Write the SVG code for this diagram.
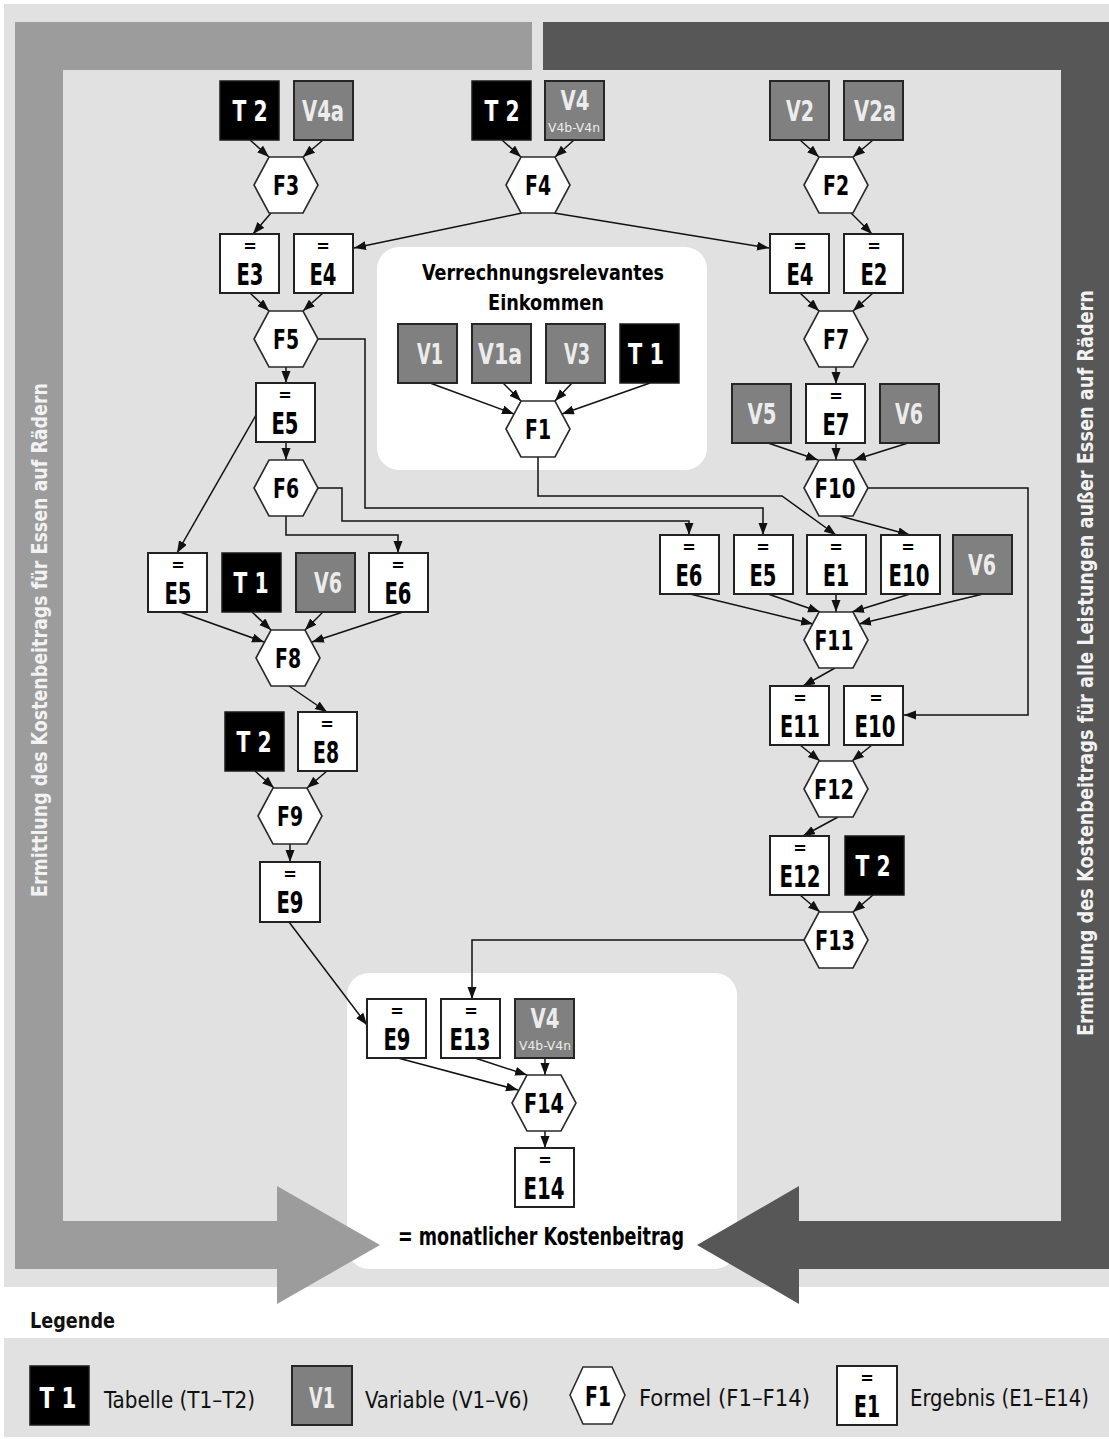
<svg xmlns="http://www.w3.org/2000/svg" xmlns:xlink="http://www.w3.org/1999/xlink" width="1109" height="1439" viewBox="0 0 1109 1439">
<style>
text{font-family:'Liberation Sans Narrow','DejaVu Sans Condensed','Liberation Sans',Arial,sans-serif;font-stretch:condensed;font-weight:bold;text-anchor:middle}
.bt{fill:#000;stroke:#1a1a1a;stroke-width:1.5}
.bv{fill:#808080;stroke:#262626;stroke-width:2}
.be{fill:#fff;stroke:#222;stroke-width:2}
.hx{fill:#fff;stroke:#2a2a2a;stroke-width:1.6}
.lt{fill:#fff;font-size:29px}
.lv{fill:#ececec;font-size:29px}
.le{fill:#000;font-size:30px}
.eq{fill:#000;font-size:18px}
.lf{fill:#000;font-size:27px}
.con path,.con polyline,.con line{fill:none;stroke:#111;stroke-width:1.5;marker-end:url(#ah)}
.vt{fill:#f2f2f2;font-size:21px}
.lg{font-weight:normal;font-size:23px;text-anchor:start;fill:#111}
</style>
<defs>
<marker id="ah" markerUnits="userSpaceOnUse" markerWidth="12" markerHeight="10" refX="12" refY="4.5" orient="auto"><path d="M0,0 L12,4.5 L0,9 z" fill="#111"/></marker>
<polygon id="hex" points="-32,0 -17,-28 17,-28 32,0 17,28 -17,28"/>
</defs>
<rect width="1109" height="1439" fill="#fff"/>
<rect x="4" y="4" width="1105" height="1283" fill="#e1e1e1"/>
<rect x="377" y="247" width="330" height="223" rx="22" fill="#fff"/>
<rect x="347" y="973" width="390" height="296" rx="22" fill="#fff"/>
<path d="M15,22 H532 V70 H63 V1221 H277 V1186 L380,1245 L277,1304 V1269 H15 Z" fill="#9c9c9c"/>
<path d="M543,22 H1109 V1269 H799 V1304 L697,1245 L799,1186 V1221 H1061 V70 H543 Z" fill="#575757"/>
<text class="vt" transform="translate(47,640) rotate(-90)" textLength="514" lengthAdjust="spacingAndGlyphs">Ermittlung des Kostenbeitrags für Essen auf Rädern</text>
<text class="vt" transform="translate(1093,663) rotate(-90)" textLength="746" lengthAdjust="spacingAndGlyphs">Ermittlung des Kostenbeitrags für alle Leistungen außer Essen auf Rädern</text>
<text x="543" y="280" style="font-size:22px;fill:#000" textLength="242" lengthAdjust="spacingAndGlyphs">Verrechnungsrelevantes</text>
<text x="546" y="310" style="font-size:22px;fill:#000" textLength="116" lengthAdjust="spacingAndGlyphs">Einkommen</text>
<text x="541" y="1245" style="font-size:24px;fill:#000" textLength="286" lengthAdjust="spacingAndGlyphs">= monatlicher Kostenbeitrag</text>

<g class="con" id="connectors">
<line x1="250" y1="140" x2="269" y2="157"/>
<line x1="323" y1="140" x2="303" y2="157"/>
<line x1="271" y1="213" x2="253" y2="234"/>
<line x1="502" y1="140" x2="521" y2="157"/>
<line x1="574" y1="140" x2="555" y2="157"/>
<line x1="522" y1="213" x2="354" y2="248"/>
<line x1="554" y1="213" x2="769" y2="248"/>
<line x1="800" y1="140" x2="819" y2="157"/>
<line x1="873" y1="140" x2="853" y2="157"/>
<line x1="851" y1="213" x2="872" y2="234"/>
<line x1="250" y1="293" x2="269" y2="311"/>
<line x1="323" y1="293" x2="303" y2="311"/>
<line x1="800" y1="293" x2="819" y2="311"/>
<line x1="873" y1="293" x2="853" y2="311"/>
<line x1="286" y1="367" x2="286" y2="383"/>
<line x1="286" y1="442" x2="286" y2="460"/>
<line x1="836" y1="367" x2="836" y2="384"/>
<line x1="430" y1="383" x2="514" y2="414"/>
<line x1="503" y1="383" x2="521" y2="401"/>
<line x1="572" y1="383" x2="555" y2="401"/>
<line x1="650" y1="383" x2="562" y2="414"/>
<line x1="768" y1="443" x2="818" y2="460"/>
<line x1="836" y1="443" x2="836" y2="460"/>
<line x1="908" y1="443" x2="854" y2="460"/>
<polyline points="318,339 365,339 365,508 763,508 763,535"/>
<polyline points="318,488 342,488 342,521 689,521 689,535"/>
<polyline points="538,457 538,496 782,496 836,535"/>
<line x1="840" y1="516" x2="910" y2="535"/>
<polyline points="868,488 1028,488 1028,715 904,715"/>
<line x1="256" y1="415" x2="177" y2="553"/>
<polyline points="286,516 286,535 398,535 398,553"/>
<line x1="180" y1="612" x2="264" y2="642"/>
<line x1="252" y1="612" x2="271" y2="630"/>
<line x1="323" y1="612" x2="305" y2="630"/>
<line x1="403" y1="612" x2="312" y2="642"/>
<line x1="289" y1="686" x2="327" y2="712"/>
<line x1="255" y1="771" x2="274" y2="788"/>
<line x1="327" y1="771" x2="307" y2="788"/>
<line x1="290" y1="844" x2="290" y2="862"/>
<line x1="690" y1="594" x2="813" y2="624"/>
<line x1="768" y1="594" x2="820" y2="612"/>
<line x1="836" y1="594" x2="836" y2="612"/>
<line x1="910" y1="594" x2="852" y2="612"/>
<line x1="983" y1="594" x2="859" y2="624"/>
<line x1="835" y1="668" x2="803" y2="686"/>
<line x1="800" y1="745" x2="820" y2="761"/>
<line x1="872" y1="745" x2="852" y2="761"/>
<line x1="838" y1="817" x2="803" y2="836"/>
<line x1="800" y1="895" x2="820" y2="912"/>
<line x1="873" y1="895" x2="853" y2="912"/>
<polyline points="804,940 472,940 472,999"/>
<line x1="289" y1="922" x2="367" y2="1025"/>
<line x1="398" y1="1058" x2="518" y2="1090"/>
<line x1="475" y1="1058" x2="527" y2="1075"/>
<line x1="545" y1="1058" x2="545" y2="1075"/>
<line x1="545" y1="1131" x2="545" y2="1148"/>
</g>

<g id="t2-a"><rect class="bt" x="220" y="81" width="59" height="59"/><text class="lt" x="250" y="121" textLength="35" lengthAdjust="spacingAndGlyphs">T 2</text></g>
<g id="v4a"><rect class="bv" x="294" y="81" width="59" height="59"/><text class="lv" x="323" y="121" textLength="42" lengthAdjust="spacingAndGlyphs">V4a</text></g>
<g id="t2-b"><rect class="bt" x="472" y="81" width="59" height="59"/><text class="lt" x="502" y="121" textLength="35" lengthAdjust="spacingAndGlyphs">T 2</text></g>
<g id="v4-a"><rect class="bv" x="545" y="81" width="59" height="59"/><text class="lv" x="575" y="110" style="font-size:27px" textLength="29" lengthAdjust="spacingAndGlyphs">V4</text><text class="lv" x="574" y="132" style="font-size:13px;font-weight:normal" textLength="52" lengthAdjust="spacingAndGlyphs">V4b-V4n</text></g>
<g id="v2"><rect class="bv" x="770" y="81" width="59" height="59"/><text class="lv" x="800" y="121" textLength="28" lengthAdjust="spacingAndGlyphs">V2</text></g>
<g id="v2a"><rect class="bv" x="844" y="81" width="59" height="59"/><text class="lv" x="875" y="121" textLength="42" lengthAdjust="spacingAndGlyphs">V2a</text></g>

<g id="f3"><use xlink:href="#hex" class="hx" x="286" y="185"/><text class="lf" x="286" y="195" textLength="26" lengthAdjust="spacingAndGlyphs">F3</text></g>
<g id="f4"><use xlink:href="#hex" class="hx" x="538" y="185"/><text class="lf" x="538" y="195" textLength="26" lengthAdjust="spacingAndGlyphs">F4</text></g>
<g id="f2"><use xlink:href="#hex" class="hx" x="836" y="185"/><text class="lf" x="836" y="195" textLength="26" lengthAdjust="spacingAndGlyphs">F2</text></g>

<g id="e3"><rect class="be" x="220" y="234" width="59" height="59"/><text class="eq" x="250" y="252">=</text><text class="le" x="250" y="285" textLength="27" lengthAdjust="spacingAndGlyphs">E3</text></g>
<g id="e4-a"><rect class="be" x="294" y="234" width="59" height="59"/><text class="eq" x="323" y="252">=</text><text class="le" x="323" y="285" textLength="27" lengthAdjust="spacingAndGlyphs">E4</text></g>
<g id="e4-b"><rect class="be" x="770" y="234" width="59" height="59"/><text class="eq" x="800" y="252">=</text><text class="le" x="800" y="285" textLength="27" lengthAdjust="spacingAndGlyphs">E4</text></g>
<g id="e2"><rect class="be" x="844" y="234" width="59" height="59"/><text class="eq" x="874" y="252">=</text><text class="le" x="874" y="285" textLength="27" lengthAdjust="spacingAndGlyphs">E2</text></g>

<g id="f5"><use xlink:href="#hex" class="hx" x="286" y="339"/><text class="lf" x="286" y="349" textLength="26" lengthAdjust="spacingAndGlyphs">F5</text></g>
<g id="f7"><use xlink:href="#hex" class="hx" x="836" y="339"/><text class="lf" x="836" y="349" textLength="26" lengthAdjust="spacingAndGlyphs">F7</text></g>

<g id="v1"><rect class="bv" x="398" y="324" width="59" height="59"/><text class="lv" x="430" y="364" textLength="26" lengthAdjust="spacingAndGlyphs">V1</text></g>
<g id="v1a"><rect class="bv" x="472" y="324" width="59" height="59"/><text class="lv" x="500" y="364" textLength="44" lengthAdjust="spacingAndGlyphs">V1a</text></g>
<g id="v3"><rect class="bv" x="546" y="324" width="59" height="59"/><text class="lv" x="577" y="364" textLength="26" lengthAdjust="spacingAndGlyphs">V3</text></g>
<g id="t1-a"><rect class="bt" x="620" y="324" width="59" height="59"/><text class="lt" x="646" y="364" textLength="36" lengthAdjust="spacingAndGlyphs">T 1</text></g>
<g id="f1"><use xlink:href="#hex" class="hx" x="538" y="429"/><text class="lf" x="538" y="439" textLength="26" lengthAdjust="spacingAndGlyphs">F1</text></g>

<g id="e5-a"><rect class="be" x="256" y="383" width="59" height="59"/><text class="eq" x="285" y="401">=</text><text class="le" x="285" y="434" textLength="27" lengthAdjust="spacingAndGlyphs">E5</text></g>
<g id="f6"><use xlink:href="#hex" class="hx" x="286" y="488"/><text class="lf" x="286" y="498" textLength="26" lengthAdjust="spacingAndGlyphs">F6</text></g>

<g id="v5"><rect class="bv" x="732" y="384" width="59" height="59"/><text class="lv" x="762" y="424" textLength="29" lengthAdjust="spacingAndGlyphs">V5</text></g>
<g id="e7"><rect class="be" x="806" y="384" width="59" height="59"/><text class="eq" x="836" y="402">=</text><text class="le" x="836" y="435" textLength="27" lengthAdjust="spacingAndGlyphs">E7</text></g>
<g id="v6-a"><rect class="bv" x="880" y="384" width="59" height="59"/><text class="lv" x="909" y="424" textLength="28" lengthAdjust="spacingAndGlyphs">V6</text></g>
<g id="f10"><use xlink:href="#hex" class="hx" x="836" y="488"/><text class="lf" x="835" y="498" textLength="41" lengthAdjust="spacingAndGlyphs">F10</text></g>

<g id="e5-b"><rect class="be" x="148" y="553" width="59" height="59"/><text class="eq" x="178" y="571">=</text><text class="le" x="178" y="604" textLength="27" lengthAdjust="spacingAndGlyphs">E5</text></g>
<g id="t1-b"><rect class="bt" x="222" y="553" width="59" height="59"/><text class="lt" x="251" y="593" textLength="35" lengthAdjust="spacingAndGlyphs">T 1</text></g>
<g id="v6-b"><rect class="bv" x="296" y="553" width="59" height="59"/><text class="lv" x="328" y="593" textLength="28" lengthAdjust="spacingAndGlyphs">V6</text></g>
<g id="e6-a"><rect class="be" x="369" y="553" width="59" height="59"/><text class="eq" x="398" y="571">=</text><text class="le" x="398" y="604" textLength="27" lengthAdjust="spacingAndGlyphs">E6</text></g>

<g id="e6-b"><rect class="be" x="660" y="535" width="59" height="59"/><text class="eq" x="689" y="553">=</text><text class="le" x="689" y="586" textLength="27" lengthAdjust="spacingAndGlyphs">E6</text></g>
<g id="e5-c"><rect class="be" x="734" y="535" width="59" height="59"/><text class="eq" x="763" y="553">=</text><text class="le" x="763" y="586" textLength="27" lengthAdjust="spacingAndGlyphs">E5</text></g>
<g id="e1"><rect class="be" x="807" y="535" width="59" height="59"/><text class="eq" x="836" y="553">=</text><text class="le" x="836" y="586" textLength="26" lengthAdjust="spacingAndGlyphs">E1</text></g>
<g id="e10-a"><rect class="be" x="881" y="535" width="59" height="59"/><text class="eq" x="908" y="553">=</text><text class="le" x="909" y="586" textLength="41" lengthAdjust="spacingAndGlyphs">E10</text></g>
<g id="v6-c"><rect class="bv" x="953" y="535" width="59" height="59"/><text class="lv" x="982" y="575" textLength="28" lengthAdjust="spacingAndGlyphs">V6</text></g>

<g id="f8"><use xlink:href="#hex" class="hx" x="288" y="658"/><text class="lf" x="288" y="668" textLength="26" lengthAdjust="spacingAndGlyphs">F8</text></g>
<g id="f11"><use xlink:href="#hex" class="hx" x="836" y="640"/><text class="lf" x="834" y="650" textLength="39" lengthAdjust="spacingAndGlyphs">F11</text></g>

<g id="t2-c"><rect class="bt" x="225" y="712" width="59" height="59"/><text class="lt" x="254" y="752" textLength="35" lengthAdjust="spacingAndGlyphs">T 2</text></g>
<g id="e8"><rect class="be" x="298" y="712" width="59" height="59"/><text class="eq" x="327" y="730">=</text><text class="le" x="326" y="763" textLength="26" lengthAdjust="spacingAndGlyphs">E8</text></g>
<g id="f9"><use xlink:href="#hex" class="hx" x="290" y="816"/><text class="lf" x="290" y="826" textLength="26" lengthAdjust="spacingAndGlyphs">F9</text></g>
<g id="e9-a"><rect class="be" x="260" y="862" width="60" height="60"/><text class="eq" x="290" y="880">=</text><text class="le" x="290" y="913" textLength="27" lengthAdjust="spacingAndGlyphs">E9</text></g>

<g id="e11"><rect class="be" x="770" y="686" width="59" height="59"/><text class="eq" x="800" y="704">=</text><text class="le" x="800" y="737" textLength="40" lengthAdjust="spacingAndGlyphs">E11</text></g>
<g id="e10-b"><rect class="be" x="844" y="686" width="59" height="59"/><text class="eq" x="876" y="704">=</text><text class="le" x="875" y="737" textLength="41" lengthAdjust="spacingAndGlyphs">E10</text></g>
<g id="f12"><use xlink:href="#hex" class="hx" x="836" y="789"/><text class="lf" x="834" y="799" textLength="40" lengthAdjust="spacingAndGlyphs">F12</text></g>
<g id="e12"><rect class="be" x="770" y="836" width="59" height="59"/><text class="eq" x="800" y="854">=</text><text class="le" x="800" y="887" textLength="41" lengthAdjust="spacingAndGlyphs">E12</text></g>
<g id="t2-d"><rect class="bt" x="845" y="836" width="59" height="59"/><text class="lt" x="873" y="876" textLength="35" lengthAdjust="spacingAndGlyphs">T 2</text></g>
<g id="f13"><use xlink:href="#hex" class="hx" x="836" y="940"/><text class="lf" x="835" y="950" textLength="40" lengthAdjust="spacingAndGlyphs">F13</text></g>

<g id="e9-b"><rect class="be" x="367" y="999" width="59" height="59"/><text class="eq" x="397" y="1017">=</text><text class="le" x="397" y="1050" textLength="27" lengthAdjust="spacingAndGlyphs">E9</text></g>
<g id="e13"><rect class="be" x="441" y="999" width="59" height="59"/><text class="eq" x="471" y="1017">=</text><text class="le" x="470" y="1050" textLength="41" lengthAdjust="spacingAndGlyphs">E13</text></g>
<g id="v4-b"><rect class="bv" x="515" y="999" width="59" height="59"/><text class="lv" x="545" y="1028" style="font-size:27px" textLength="29" lengthAdjust="spacingAndGlyphs">V4</text><text class="lv" x="545" y="1050" style="font-size:13px;font-weight:normal" textLength="52" lengthAdjust="spacingAndGlyphs">V4b-V4n</text></g>
<g id="f14"><use xlink:href="#hex" class="hx" x="544" y="1103"/><text class="lf" x="544" y="1113" textLength="40" lengthAdjust="spacingAndGlyphs">F14</text></g>
<g id="e14"><rect class="be" x="515" y="1148" width="59" height="59"/><text class="eq" x="545" y="1166">=</text><text class="le" x="544" y="1199" textLength="41" lengthAdjust="spacingAndGlyphs">E14</text></g>

<g id="legend">
<text x="30" y="1328" style="font-size:22px;fill:#111;text-anchor:start" textLength="85" lengthAdjust="spacingAndGlyphs">Legende</text>
<rect x="4" y="1338" width="1105" height="99" fill="#e1e1e1"/>
<g id="leg-t"><rect class="bt" x="30" y="1366" width="59" height="59"/><text class="lt" x="58" y="1408" textLength="37" lengthAdjust="spacingAndGlyphs">T 1</text><text class="lg" x="104" y="1408" textLength="151" lengthAdjust="spacingAndGlyphs">Tabelle (T1–T2)</text></g>
<g id="leg-v"><rect class="bv" x="292" y="1366" width="60" height="59"/><text class="lv" x="322" y="1408" textLength="26" lengthAdjust="spacingAndGlyphs">V1</text><text class="lg" x="365" y="1408" textLength="164" lengthAdjust="spacingAndGlyphs">Variable (V1–V6)</text></g>
<g id="leg-f"><polygon class="hx" points="570,1395 583,1367 612,1367 625,1395 612,1424 583,1424"/><text class="lf" x="598" y="1406" textLength="26" lengthAdjust="spacingAndGlyphs">F1</text><text class="lg" x="639" y="1406" textLength="171" lengthAdjust="spacingAndGlyphs">Formel (F1–F14)</text></g>
<g id="leg-e"><rect class="be" x="837" y="1366" width="60" height="59"/><text class="eq" x="867" y="1384">=</text><text class="le" x="867" y="1417" textLength="26" lengthAdjust="spacingAndGlyphs">E1</text><text class="lg" x="910" y="1406" textLength="179" lengthAdjust="spacingAndGlyphs">Ergebnis (E1–E14)</text></g>
</g>
</svg>
